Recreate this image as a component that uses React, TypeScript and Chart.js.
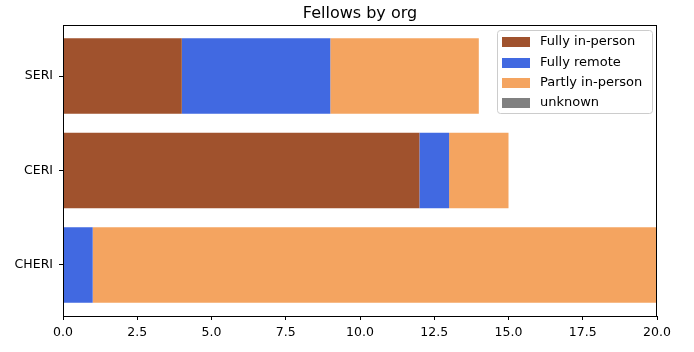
import React, { useEffect, useRef } from "react";
import { Chart, registerables } from "chart.js";

Chart.register(...registerables);

const categories = ["CHERI", "CERI", "SERI"];
const fullyInPerson = [0, 12, 4];
const fullyRemote = [1, 1, 5];
const partlyInPerson = [19, 2, 5];
const unknown = [0, 0, 0];
const seriesLabels = ["Fully in-person", "Fully remote", "Partly in-person", "unknown"];
const seriesColors = ["#A0522D", "#4169E1", "#F4A460", "#808080"];
const xTicks = [0, 2.5, 5, 7.5, 10, 12.5, 15, 17.5, 20];
const title = "Fellows by org";

const FONT = "'DejaVu Sans', sans-serif";

export default function App() {
  const ref = useRef<HTMLCanvasElement | null>(null);

  useEffect(() => {
    if (!ref.current) return;
    const series = [fullyInPerson, fullyRemote, partlyInPerson, unknown];
    const datasets = series.map((vals, i) => ({
      label: seriesLabels[i],
      data: vals.map((v, j) => ({ x: v, y: j })),
      backgroundColor: seriesColors[i],
      borderWidth: 0,
      barPercentage: 0.8,
      categoryPercentage: 1,
    }));

    const framePlugin = {
      id: "frame",
      afterDatasetsDraw(chart: any) {
        const { ctx, chartArea } = chart;
        const { left, right, top, bottom } = chartArea;
        ctx.save();
        ctx.strokeStyle = "#000";
        ctx.lineWidth = 1;
        ctx.strokeRect(Math.round(left) + 0.5, Math.round(top) + 0.5, Math.round(right - left) - 1, Math.round(bottom - top));
        // title
        ctx.fillStyle = "#000";
        ctx.font = `16px ${FONT}`;
        ctx.textAlign = "center";
        ctx.textBaseline = "alphabetic";
        ctx.fillText(title, (left + right) / 2, 18);
        // legend
        const bx = 497.5, by = 30.5, bw = 155, bh = 83;
        ctx.beginPath();
        const r = 3;
        ctx.moveTo(bx + r, by);
        ctx.lineTo(bx + bw - r, by);
        ctx.quadraticCurveTo(bx + bw, by, bx + bw, by + r);
        ctx.lineTo(bx + bw, by + bh - r);
        ctx.quadraticCurveTo(bx + bw, by + bh, bx + bw - r, by + bh);
        ctx.lineTo(bx + r, by + bh);
        ctx.quadraticCurveTo(bx, by + bh, bx, by + bh - r);
        ctx.lineTo(bx, by + r);
        ctx.quadraticCurveTo(bx, by, bx + r, by);
        ctx.closePath();
        ctx.fillStyle = "rgba(255,255,255,0.8)";
        ctx.fill();
        ctx.strokeStyle = "#cccccc";
        ctx.stroke();
        const rows = [42, 63, 83, 103];
        chart.data.datasets.forEach((ds: any, i: number) => {
          ctx.fillStyle = ds.backgroundColor;
          ctx.fillRect(502, rows[i] - 5, 28, 10);
          ctx.fillStyle = "#000";
          ctx.font = `13px ${FONT}`;
          ctx.textAlign = "left";
          ctx.textBaseline = "middle";
          ctx.fillText(ds.label, 540, rows[i]);
        });
        ctx.restore();
      },
    };

    const chart = new Chart(ref.current, {
      type: "bar",
      data: { datasets: datasets as any },
      options: {
        indexAxis: "y",
        animation: false,
        responsive: false,
        maintainAspectRatio: false,
        layout: { padding: { left: 0, right: 37, top: 25, bottom: 0 } },
        plugins: { legend: { display: false }, title: { display: false }, tooltip: { enabled: false } },
        scales: {
          x: {
            type: "linear",
            stacked: true,
            min: 0,
            max: 20,
            offset: false,
            afterBuildTicks(scale: any) {
              scale.ticks = xTicks.map((v) => ({ value: v }));
            },
            afterFit(scale: any) {
              scale.height = 36;
            },
            ticks: {
              autoSkip: false,
              maxRotation: 0,
              color: "#000",
              font: { family: FONT, size: 12.5 },
              padding: 5,
              callback: (v: any) => Number(v).toFixed(1),
            },
            grid: { drawOnChartArea: false, tickLength: 4, color: "#000", offset: false },
            border: { display: false },
          },
          y: {
            type: "linear",
            stacked: true,
            min: -0.54,
            max: 2.54,
            offset: false,
            afterBuildTicks(scale: any) {
              scale.ticks = categories.map((_, i) => ({ value: i }));
            },
            afterFit(scale: any) {
              scale.width = 63;
            },
            ticks: {
              autoSkip: false,
              color: "#000",
              font: { family: FONT, size: 12.5 },
              padding: 6,
              callback: (v: any) => categories[Math.round(Number(v))] ?? "",
            },
            grid: { drawOnChartArea: false, tickLength: 4, color: "#000", offset: false },
            border: { display: false },
          },
        },
      },
      plugins: [framePlugin],
    });
    return () => chart.destroy();
  }, []);

  return (
    <div style={{ position: "fixed", left: 0, top: 0, width: 694, height: 352, background: "#fff" }}>
      <canvas ref={ref} width={694} height={352} style={{ width: 694, height: 352 }} />
    </div>
  );
}
